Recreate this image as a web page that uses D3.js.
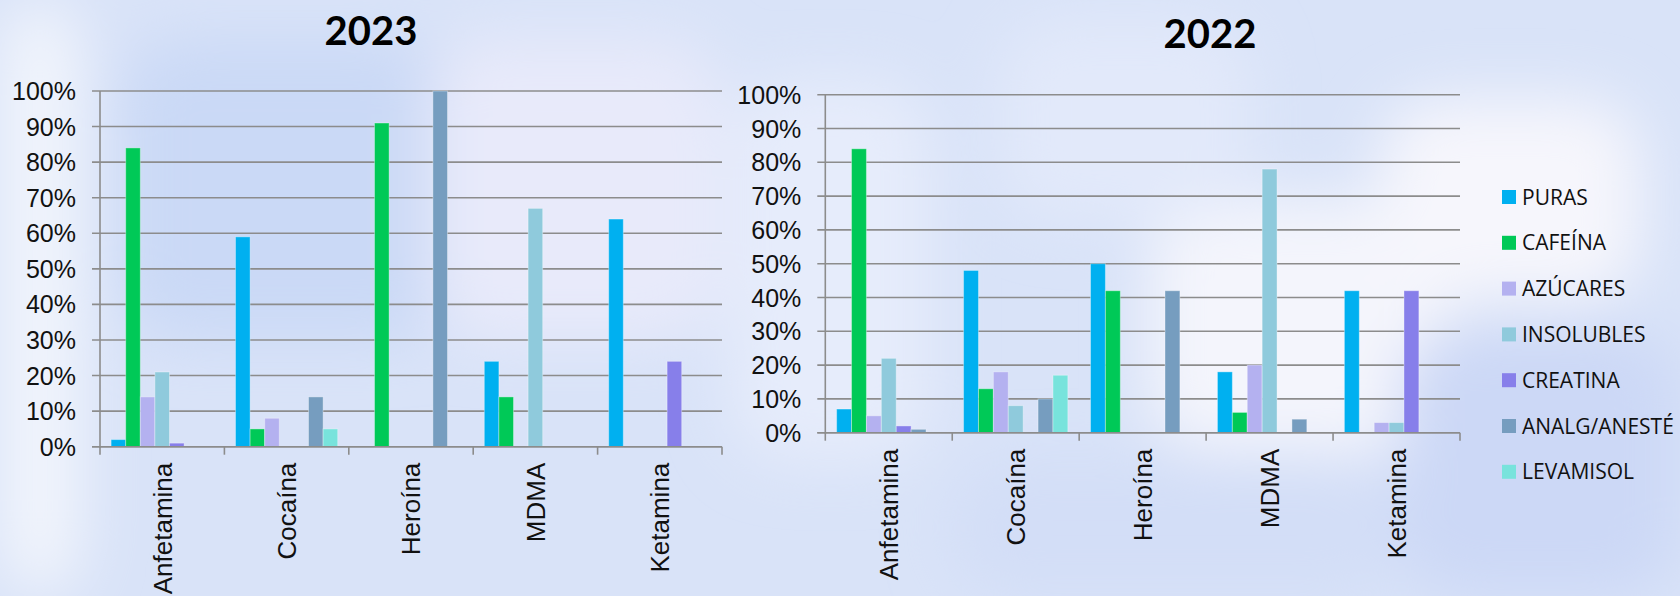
<!DOCTYPE html>
<html>
<head>
<meta charset="utf-8">
<script src="https://cdn.jsdelivr.net/npm/d3@7.9.0/dist/d3.min.js"></script>
<style>
  html, body { margin: 0; padding: 0; background: #dde6f8; }
  svg { display: block; }
</style>
</head>
<body>
<svg id="chart" width="1680" height="596"></svg>
<script>
// categories and series
const categories = ['Anfetamina', 'Cocaína', 'Heroína', 'MDMA', 'Ketamina'];
const seriesNames = ['PURAS', 'CAFEÍNA', 'AZÚCARES', 'INSOLUBLES', 'CREATINA', 'ANALG/ANESTÉ', 'LEVAMISOL'];
const seriesColors = ['#00b0f0', '#00c957', '#b4b1f0', '#8fcadc', '#877fea', '#769dbf', '#78e3dc'];
const yTicks = [0, 10, 20, 30, 40, 50, 60, 70, 80, 90, 100];

// % per series (rows) by category (columns)
const values2023 = [
  [2, 59, 0, 24, 64],     // PURAS
  [84, 5, 91, 14, 0],     // CAFEÍNA
  [14, 8, 0, 0, 0],       // AZÚCARES
  [21, 0, 0, 67, 0],      // INSOLUBLES
  [1, 0, 0, 0, 24],       // CREATINA
  [0, 14, 100, 0, 0],     // ANALG/ANESTÉ
  [0, 5, 0, 0, 0]         // LEVAMISOL
];
const values2022 = [
  [7, 48, 50, 18, 42],
  [84, 13, 42, 6, 0],
  [5, 18, 0, 20, 3],
  [22, 8, 0, 78, 3],
  [2, 0, 0, 0, 42],
  [1, 10, 42, 4, 0],
  [0, 17, 0, 0, 0]
];

const svg = d3.select('#chart');

// blurred background
const defs = svg.append('defs');
defs.append('filter').attr('id', 'blur')
  .attr('x', '-50%').attr('y', '-50%').attr('width', '200%').attr('height', '200%')
  .append('feGaussianBlur').attr('stdDeviation', 30);

svg.append('rect').attr('width', 1680).attr('height', 596).attr('fill', '#d9e3f8');
const bg = svg.append('g').attr('filter', 'url(#blur)');
const blobs = [
  {x: 0, y: 0, w: 80, h: 596, c: '#f2f5fc'},
  {x: 120, y: 40, w: 330, h: 300, c: '#cad9f6'},
  {x: 430, y: 40, w: 290, h: 300, c: '#e8eafa'},
  {x: 730, y: 80, w: 200, h: 380, c: '#e6ecfb'},
  {x: 1150, y: 200, w: 300, h: 250, c: '#f4f5fc'},
  {x: 1380, y: 100, w: 260, h: 200, c: '#f6f6fc'},
  {x: 1400, y: 330, w: 280, h: 266, c: '#ccd8f6'},
  {x: 950, y: 460, w: 450, h: 136, c: '#d3def7'},
  {x: 1000, y: 20, w: 250, h: 200, c: '#e2e9fa'}
];
blobs.forEach(b => {
  bg.append('rect').attr('x', b.x).attr('y', b.y).attr('width', b.w).attr('height', b.h)
    .attr('rx', 60).attr('fill', b.c);
});

function drawChart(opts) {
  const x = d3.scaleBand().domain(categories).range([opts.left, opts.right]).padding(0);
  const xs = d3.scaleBand().domain(seriesNames).range([0, x.bandwidth()])
    .paddingInner(0).paddingOuter(0.76);
  const y = d3.scaleLinear().domain([0, 100]).range([opts.bottom, opts.top]);
  const g = svg.append('g');

  // gridlines
  g.append('g').selectAll('line').data(yTicks).join('line')
    .attr('x1', opts.left - 8).attr('x2', opts.right)
    .attr('y1', d => y(d)).attr('y2', d => y(d))
    .attr('stroke', '#8c8c8c').attr('stroke-width', 1.6);

  // y axis line
  g.append('line').attr('x1', opts.left).attr('x2', opts.left)
    .attr('y1', y(100)).attr('y2', opts.bottom + 1)
    .attr('stroke', '#8c8c8c').attr('stroke-width', 1.6);

  // y labels
  g.append('g').selectAll('text').data(yTicks).join('text')
    .attr('x', opts.left - 24).attr('y', d => y(d)).attr('dy', '0.36em')
    .attr('text-anchor', 'end')
    .style('font-family', '"Liberation Sans", Arial, sans-serif')
    .style('font-size', '25px').attr('fill', '#111')
    .text(d => d + '%');

  // bars
  opts.values.forEach((row, si) => {
    const pts = row.map((v, ci) => ({cat: categories[ci], v: v})).filter(d => d.v > 0);
    g.append('g').selectAll('rect').data(pts).join('rect')
      .attr('x', d => x(d.cat) + xs(seriesNames[si]))
      .attr('y', d => y(d.v))
      .attr('width', xs.bandwidth())
      .attr('height', d => opts.bottom - y(d.v))
      .attr('fill', seriesColors[si])
      .attr('stroke', 'rgba(255,255,255,0.35)').attr('stroke-width', 1);
  });

  // x axis line + ticks
  g.append('line').attr('x1', opts.left - 8).attr('x2', opts.right)
    .attr('y1', opts.bottom).attr('y2', opts.bottom)
    .attr('stroke', '#8c8c8c').attr('stroke-width', 1.6);
  const bounds = categories.map(c => x(c)).concat([opts.right]);
  g.append('g').selectAll('line').data(bounds).join('line')
    .attr('x1', d => d).attr('x2', d => d)
    .attr('y1', opts.bottom).attr('y2', opts.bottom + 8)
    .attr('stroke', '#8c8c8c').attr('stroke-width', 1.6);

  // category labels (rotated)
  g.append('g').selectAll('text').data(categories).join('text')
    .attr('transform', d => `translate(${x(d) + x.bandwidth() / 2},${opts.bottom + 16}) rotate(-90)`)
    .attr('text-anchor', 'end').attr('dy', '0.36em')
    .style('font-family', '"Liberation Sans", Arial, sans-serif')
    .style('font-size', '26px').attr('fill', '#111')
    .text(d => d);

  // title
  svg.append('text').attr('x', opts.titleX).attr('y', opts.titleY)
    .attr('text-anchor', 'middle')
    .style('font-family', 'Lato, "Open Sans", sans-serif')
    .style('font-weight', 'bold').style('font-size', '40px').attr('fill', '#000')
    .text(opts.title);
}

drawChart({values: values2023, left: 100, right: 722, top: 91, bottom: 446.7,
  title: '2023', titleX: 371, titleY: 45});
drawChart({values: values2022, left: 825.3, right: 1460, top: 94.7, bottom: 432.7,
  title: '2022', titleX: 1210, titleY: 48});

// legend
const legend = svg.append('g').attr('transform', 'translate(1502,197)');
const items = legend.selectAll('g').data(seriesNames).join('g')
  .attr('transform', (d, i) => `translate(0,${i * 45.8})`);
items.append('rect').attr('x', 0).attr('y', -7).attr('width', 14).attr('height', 14)
  .attr('fill', (d, i) => seriesColors[i]);
items.append('text').attr('x', 20).attr('dy', '0.36em')
  .style('font-family', '"Open Sans", sans-serif').style('font-size', '21px')
  .attr('fill', '#111')
  .text(d => d);
</script>
</body>
</html>
